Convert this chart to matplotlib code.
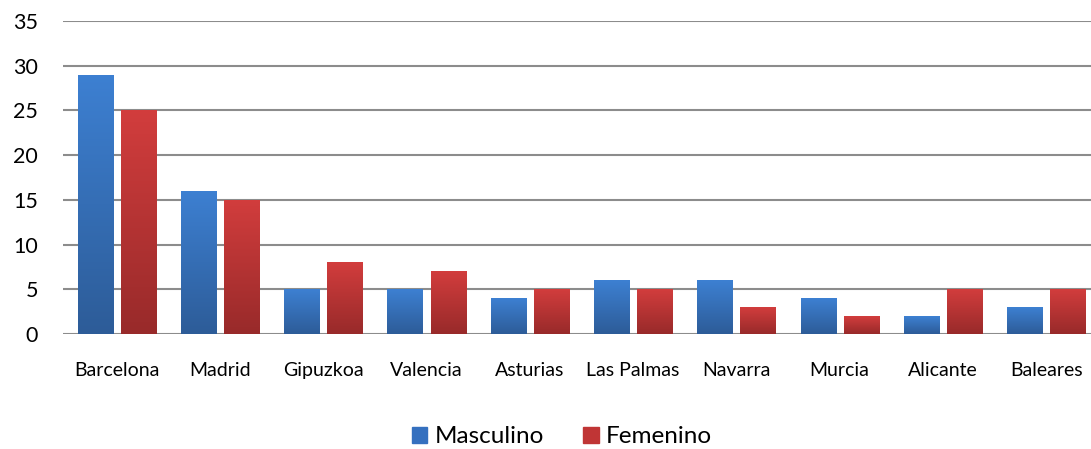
import numpy as np
import matplotlib
matplotlib.use("Agg")
from matplotlib import pyplot as plt
from matplotlib.colors import LinearSegmentedColormap

provincias = ["Barcelona", "Madrid", "Gipuzkoa", "Valencia", "Asturias",
              "Las Palmas", "Navarra", "Murcia", "Alicante", "Baleares"]
masculino = [29, 16, 5, 5, 4, 6, 6, 4, 2, 3]
femenino = [25, 15, 8, 7, 5, 5, 3, 2, 5, 5]
yticks = [0, 5, 10, 15, 20, 25, 30, 35]

plt.rcParams['font.family'] = ['Lato', 'DejaVu Sans']

fig = plt.figure(figsize=(10.91, 4.49), dpi=100)
ax = fig.add_axes([0.0577, 0.2561, 0.9486, 0.6971])

x = np.arange(len(provincias))
w = 0.34
off = 0.209

blue = LinearSegmentedColormap.from_list("b", ["#2d5c98", "#3d80d2"])
red = LinearSegmentedColormap.from_list("r", ["#982a2a", "#d23d3d"])
grad = np.linspace(0, 1, 256).reshape(-1, 1)


def gradient_bars(bars, cmap):
    for b in bars:
        bx, by = b.get_x(), b.get_y()
        bw, bh = b.get_width(), b.get_height()
        # soft shadow under the bar
        ax.add_patch(plt.Rectangle((bx + 0.01, by - 0.6), bw, 0.6,
                                   color="#000000", alpha=0.08, lw=0, zorder=1))
        im = ax.imshow(grad, extent=(bx, bx + bw, by, by + bh), origin="lower",
                       cmap=cmap, aspect="auto", zorder=3)
        im.set_clip_path(b)


b1 = ax.bar(x - off, masculino, w, color="#3d80d2", zorder=2, label="Masculino")
b2 = ax.bar(x + off, femenino, w, color="#d23d3d", zorder=2, label="Femenino")
gradient_bars(b1, blue)
gradient_bars(b2, red)

ax.set_xlim(-0.52, len(provincias) - 0.5)
ax.set_ylim(0, 35)
ax.set_yticks(yticks)
ax.set_xticks(x)
ax.set_xticklabels(provincias, fontsize=14)
ax.tick_params(axis="x", length=0, pad=20)
ax.tick_params(axis="y", length=0, pad=18, labelsize=15.5)
ax.yaxis.grid(True, color="#8c8c8c", lw=1.5, zorder=0)
ax.set_axisbelow(True)
for s in ax.spines.values():
    s.set_visible(False)

handles = [plt.Rectangle((0, 0), 1, 1, color="#3570bf"),
           plt.Rectangle((0, 0), 1, 1, color="#c03535")]
fig.legend(handles, ["Masculino", "Femenino"], loc="center",
           bbox_to_anchor=(0.515, 0.027), ncol=2, frameon=False, fontsize=17.5,
           handlelength=0.65, handleheight=0.65, handletextpad=0.3, columnspacing=1.6)

fig.savefig("out.png", dpi=100)
